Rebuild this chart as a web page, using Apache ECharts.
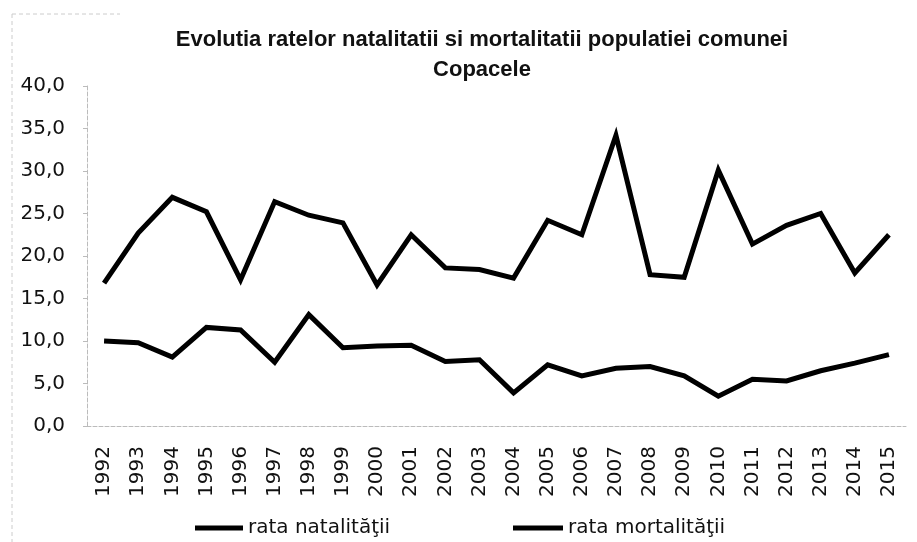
<!DOCTYPE html>
<html>
<head>
<meta charset="utf-8">
<script src="https://cdn.jsdelivr.net/npm/echarts@6/dist/echarts.min.js"></script>
<style>html,body{margin:0;padding:0;background:#fff;}#chart{width:917px;height:542px;}</style>
</head>
<body>
<div id="chart"></div>
<script>
var years = ['1992','1993','1994','1995','1996','1997','1998','1999','2000','2001','2002','2003','2004','2005','2006','2007','2008','2009','2010','2011','2012','2013','2014','2015'];
var natalitate = [10.0, 9.8, 8.1, 11.6, 11.3, 7.5, 13.1, 9.2, 9.4, 9.5, 7.6, 7.8, 3.9, 7.2, 5.9, 6.8, 7.0, 5.9, 3.5, 5.5, 5.3, 6.5, 7.4, 8.4];
var mortalitate = [16.8, 22.7, 26.9, 25.2, 17.2, 26.4, 24.8, 23.9, 16.6, 22.5, 18.6, 18.4, 17.4, 24.2, 22.5, 34.2, 17.8, 17.5, 30.1, 21.4, 23.6, 25.0, 18.0, 22.5];
var seriesNames = ['rata natalităţii', 'rata mortalităţii'];
var titleText = 'Evolutia ratelor natalitatii si mortalitatii populatiei comunei\nCopacele';

var chart = echarts.init(document.getElementById('chart'));
var legendText = {fontFamily: 'DejaVu Sans', fontSize: 20, color: '#111'};
chart.setOption({
  animation: false,
  backgroundColor: '#fff',
  title: {
    text: titleText,
    left: 477, top: 20, textAlign: 'center',
    textStyle: {fontFamily: 'Liberation Sans', fontWeight: 'bold', fontSize: 22, lineHeight: 30, color: '#111'}
  },
  legend: [
    {data: [seriesNames[0]], left: 190, top: 513, icon: 'rect', itemWidth: 48, itemHeight: 5, itemGap: 7, textStyle: legendText},
    {data: [seriesNames[1]], left: 508, top: 513, icon: 'rect', itemWidth: 50, itemHeight: 5, itemGap: 7, textStyle: legendText}
  ],
  grid: {left: 87, right: 11, top: 86, bottom: 116, containLabel: false},
  xAxis: {
    type: 'category', data: years, boundaryGap: true,
    axisLine: {lineStyle: {color: '#bbb', width: 1, type: 'dashed'}},
    axisTick: {show: false},
    axisLabel: {rotate: 90, margin: 20, fontFamily: 'DejaVu Sans', fontSize: 20, color: '#111'}
  },
  yAxis: {
    type: 'value', min: 0, max: 40, interval: 5,
    splitLine: {show: false},
    axisLine: {show: true, lineStyle: {color: '#bbb', width: 1, type: 'dashed'}},
    axisTick: {show: true, length: 4, lineStyle: {color: '#bbb'}},
    axisLabel: {margin: 22, fontFamily: 'DejaVu Sans', fontSize: 20, color: '#111',
      formatter: function (v) { return v.toFixed(1).replace('.', ','); }}
  },
  graphic: [
    {type: 'line', shape: {x1: 12, y1: 14, x2: 12, y2: 542}, style: {stroke: '#ccc', lineWidth: 1, lineDash: [4, 3]}},
    {type: 'line', shape: {x1: 12, y1: 14, x2: 120, y2: 14}, style: {stroke: '#ccc', lineWidth: 1, lineDash: [4, 3]}}
  ],
  series: [
    {name: seriesNames[0], type: 'line', data: natalitate, showSymbol: false, symbol: 'none',
      itemStyle: {color: '#000'}, lineStyle: {color: '#000', width: 5, join: 'miter'}},
    {name: seriesNames[1], type: 'line', data: mortalitate, showSymbol: false, symbol: 'none',
      itemStyle: {color: '#000'}, lineStyle: {color: '#000', width: 5, join: 'miter'}}
  ]
});
</script>
</body>
</html>
